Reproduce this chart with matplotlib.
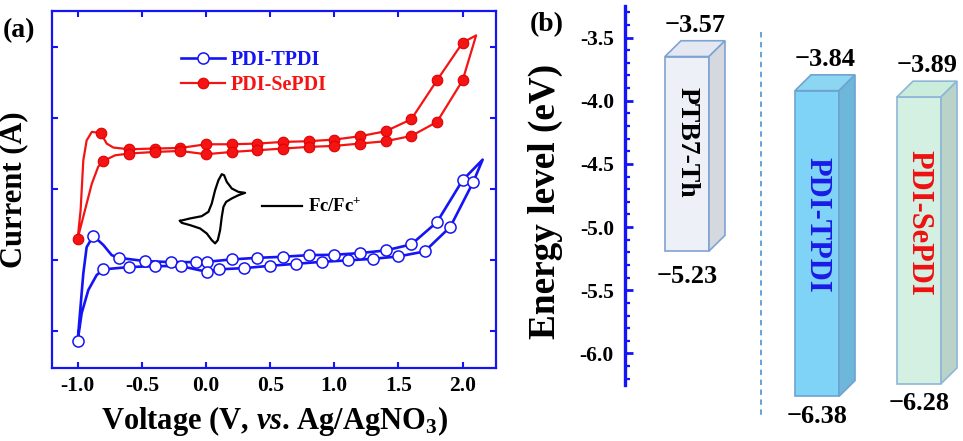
import matplotlib
matplotlib.use("Agg")
import matplotlib.pyplot as plt
from matplotlib.lines import Line2D
from matplotlib.patches import Polygon

plt.rcParams['font.family'] = ['Liberation Serif', 'DejaVu Serif']
plt.rcParams['font.weight'] = 'bold'
plt.rcParams['axes.labelweight'] = 'bold'
plt.rcParams['axes.unicode_minus'] = False
plt.rcParams['mathtext.fontset'] = 'custom'
plt.rcParams['mathtext.rm'] = 'Liberation Serif:bold'
plt.rcParams['mathtext.it'] = 'Liberation Serif:italic:bold'
plt.rcParams['mathtext.bf'] = 'Liberation Serif:bold'

# ---------------- data: panel (a) cyclic voltammetry ----------------
tpdi_line_v = [-1.0, -0.982, -0.956, -0.93, -0.878, -0.80, -0.735, -0.678, -0.475, -0.275, -0.077, 0.006,
               0.2, 0.4, 0.6, 0.8, 1.0, 1.2, 1.4, 1.6, 1.8, 2.0, 2.156,
               2.083, 1.904, 1.704, 1.5, 1.3, 1.103, 0.903, 0.7, 0.5, 0.3, 0.102, 0.006,
               -0.197, -0.397, -0.6, -0.8, -0.852, -0.917, -0.969, -1.0]
tpdi_line_i = [0.86, 1.25, 1.81, 2.18, 2.338, 2.21, 2.067, 2.029, 1.983, 1.969, 1.969, 1.973,
               2.007, 2.029, 2.044, 2.067, 2.072, 2.096, 2.133, 2.218, 2.531, 3.121, 3.41,
               3.097, 2.465, 2.119, 2.049, 2.015, 1.993, 1.973, 1.945, 1.917, 1.885, 1.867, 1.833,
               1.913, 1.913, 1.899, 1.867, 1.787, 1.576, 1.25, 0.86]
tpdi_mark_v = [-1.0, -0.878, -0.678, -0.475, -0.275, -0.077, 0.006, 0.2, 0.4, 0.6, 0.8, 1.0, 1.2, 1.4,
               1.6, 1.8, 2.0, 2.083, 1.904, 1.704, 1.5, 1.3, 1.103, 0.903, 0.7, 0.5, 0.3, 0.102,
               0.006, -0.197, -0.397, -0.6, -0.8]
tpdi_mark_i = [0.86, 2.338, 2.029, 1.983, 1.969, 1.969, 1.973, 2.007, 2.029, 2.044, 2.067, 2.072,
               2.096, 2.133, 2.218, 2.531, 3.121, 3.097, 2.465, 2.119, 2.049, 2.015, 1.993, 1.973,
               1.945, 1.917, 1.885, 1.867, 1.833, 1.913, 1.913, 1.899, 1.867]

sepdi_line_v = [-1.0, -0.977, -0.956, -0.93, -0.89, -0.82, -0.774, -0.722, -0.6, -0.4, -0.2, 0.0,
                0.2, 0.4, 0.6, 0.8, 1.0, 1.2, 1.4, 1.6, 1.8, 2.0, 2.105,
                2.0, 1.8, 1.6, 1.4, 1.2, 1.0, 0.8, 0.6, 0.4, 0.2, 0.0, -0.2, -0.4, -0.6,
                -0.71, -0.8, -0.84, -0.89, -0.943, -1.0]
sepdi_line_i = [2.30, 2.70, 3.40, 3.68, 3.80, 3.785, 3.636, 3.58, 3.556, 3.566, 3.574, 3.626,
                3.626, 3.636, 3.659, 3.669, 3.692, 3.739, 3.809, 3.978, 4.525, 5.055, 5.157,
                4.525, 3.94, 3.743, 3.669, 3.636, 3.603, 3.589, 3.566, 3.542, 3.518, 3.486,
                3.532, 3.518, 3.496, 3.47, 3.39, 3.31, 3.07, 2.70, 2.30]
sepdi_mark_v = [-1.0, -0.82, -0.6, -0.4, -0.2, 0.0, 0.2, 0.4, 0.6, 0.8, 1.0, 1.2, 1.4, 1.6, 1.8, 2.0,
                2.0, 1.8, 1.6, 1.4, 1.2, 1.0, 0.8, 0.6, 0.4, 0.2, 0.0, -0.2, -0.4, -0.6, -0.8]
sepdi_mark_i = [2.30, 3.785, 3.556, 3.566, 3.574, 3.626, 3.626, 3.636, 3.659, 3.669, 3.692, 3.739,
                3.809, 3.978, 4.525, 5.055, 4.525, 3.94, 3.743, 3.669, 3.636, 3.603, 3.589, 3.566,
                3.542, 3.518, 3.486, 3.532, 3.518, 3.496, 3.39]

# Fc/Fc+ reference voltammogram (inset sketch)
fc_v = [-0.202, -0.124, -0.033, 0.019, 0.045, 0.071, 0.097, 0.123, 0.141, 0.162, 0.201, 0.253, 0.305,
        0.253, 0.201, 0.157, 0.136, 0.123, 0.110, 0.092, 0.071, 0.045, 0.006, -0.046, -0.124, -0.189, -0.202]
fc_i = [2.549, 2.583, 2.615, 2.676, 2.793, 2.98, 3.121, 3.205, 3.191, 3.097, 3.004, 2.956, 2.943,
        2.910, 2.864, 2.816, 2.746, 2.605, 2.419, 2.278, 2.232, 2.278, 2.372, 2.442, 2.489, 2.521, 2.549]

x_ticks = [-1.0, -0.5, 0.0, 0.5, 1.0, 1.5, 2.0]
x_tick_labels = ['-1.0', '-0.5', '0.0', '0.5', '1.0', '1.5', '2.0']
y_ticks_a = [1, 2, 3, 4, 5]

# ---------------- data: panel (b) energy levels ----------------
materials = ['PTB7-Th', 'PDI-TPDI', 'PDI-SePDI']
lumo = [-3.57, -3.84, -3.89]
homo = [-5.23, -6.38, -6.28]
e_ticks = [-3.5, -4.0, -4.5, -5.0, -5.5, -6.0]
e_tick_labels = ['-3.5', '-4.0', '-4.5', '-5.0', '-5.5', '-6.0']

# ---------------- style ----------------
BLUE = '#1414F5'
RED = '#F51414'
box_front = ['#EEF0F8', '#7ED3F6', '#D3F0E3']
box_top = ['#E4E8F3', '#8DD6F2', '#C9ECDB']
box_side = ['#D6D8DF', '#6DB7DA', '#B9D3C8']
box_edge = ['#7FA3D2', '#6FA3D0', '#8FB6D8']
label_colors = ['black', '#1A1AE6', '#F01010']
label_sizes = [20, 22, 22]
box_x = [62, 192, 294]
box_w = 44
depth_x = 16
depth_y = 0.125
inset_top = 0.08
inset_bot = 0.04
bottom_label_offset = [-10, -6, -6]

fig = plt.figure(figsize=(9.63, 4.41), dpi=100)

# ================= panel (a) =================
axA = fig.add_axes([52/963, 73/441, 444/963, 357/441])
axA.plot(tpdi_line_v, tpdi_line_i, color=BLUE, lw=1.9, zorder=2)
axA.plot(tpdi_mark_v, tpdi_mark_i, ls='none', marker='o', ms=8, mfc='white', mec=BLUE, mew=1.1, zorder=3)
axA.plot(sepdi_line_v, sepdi_line_i, color=RED, lw=1.6, zorder=2)
axA.plot(sepdi_mark_v, sepdi_mark_i, ls='none', marker='o', ms=7.6, mfc=RED, mec='#E00000', mew=0.8, zorder=3)
axA.plot(fc_v, fc_i, color='black', lw=1.6, zorder=2)

axA.set_xlim(-1.2, 2.26)
axA.set_ylim(0.48, 5.5)
axA.set_xticks(x_ticks)
axA.set_xticklabels(x_tick_labels)
axA.set_yticks(y_ticks_a)
axA.tick_params(direction='in', length=4, width=1.5, color=BLUE, top=True, right=True,
                labelleft=False, labelsize=15.5, pad=6)
for sp in axA.spines.values():
    sp.set_color(BLUE)
    sp.set_linewidth(1.6)
axA.set_xlabel(r'Voltage (V, $\mathit{vs}$. Ag/AgNO$_{\mathregular{3}}$)', fontsize=22)
axA.xaxis.set_label_coords(0.5, -0.10)
axA.set_ylabel('Current (A)', fontsize=22)
axA.yaxis.set_label_coords(-0.054, 0.5)

handles = [Line2D([], [], color=BLUE, lw=1.9, marker='o', ms=8, mfc='white', mec=BLUE, mew=1.1),
           Line2D([], [], color=RED, lw=1.6, marker='o', ms=7.6, mfc=RED, mec='#E00000', mew=0.8)]
leg = axA.legend(handles, ['PDI-TPDI', 'PDI-SePDI'], loc='upper left', bbox_to_anchor=(0.29, 0.89),
                 frameon=False, fontsize=14.5, handlelength=2.2, handletextpad=0.3, labelspacing=0.25,
                 borderpad=0, borderaxespad=0)
for txt, c in zip(leg.get_texts(), [BLUE, RED]):
    txt.set_color(c)

axA.plot([0.473, 0.563], [0.454, 0.454], transform=axA.transAxes, color='black', lw=1.6)
axA.text(0.577, 0.454, r'Fc/Fc$^{\mathregular{+}}$', transform=axA.transAxes, fontsize=13.5,
         va='center', ha='left')
fig.text(3/963, 1 - 31/441, '(a)', fontsize=20, va='center', ha='left')

# ================= panel (b) =================
axB = fig.add_axes([625/963, 56/441, 338/963, 379/441])
axB.set_xlim(0, 338)
axB.set_ylim(-6.25, -3.25)
for side in ['top', 'right', 'bottom']:
    axB.spines[side].set_visible(False)
axB.spines['left'].set_color(BLUE)
axB.spines['left'].set_linewidth(2.4)
axB.set_xticks([])
axB.set_yticks(e_ticks)
axB.set_yticklabels(e_tick_labels)
axB.set_yticks([-3.3, -3.4, -3.6, -3.7, -3.8, -3.9, -4.1, -4.2, -4.3, -4.4, -4.6, -4.7, -4.8, -4.9,
                -5.1, -5.2, -5.3, -5.4, -5.6, -5.7, -5.8, -5.9, -6.1, -6.2], minor=True)
axB.tick_params(axis='y', which='major', direction='in', length=5.5, width=2, color=BLUE,
                labelsize=15.5, pad=8)
axB.tick_params(axis='y', which='minor', direction='in', length=3.5, width=1.6, color=BLUE)
axB.set_ylabel('Energy level (eV)', fontsize=26.8)
axB.yaxis.set_label_coords(-0.183, 0.484)
fig.text(530/963, 1 - 25/441, '(b)', fontsize=20, va='center', ha='left')

axB.plot([136, 136], [-3.456, -6.488], color='#5B9BD5', lw=1.3, ls=(0, (3, 2.5)), clip_on=False)

for k, name in enumerate(materials):
    x0 = box_x[k] - box_w / 2
    x1 = box_x[k] + box_w / 2
    top = lumo[k] - inset_top
    bot = homo[k] + inset_bot
    front = Polygon([(x0, bot), (x1, bot), (x1, top), (x0, top)], closed=True,
                    fc=box_front[k], ec=box_edge[k], lw=1.2, clip_on=False, zorder=3)
    topf = Polygon([(x0, top), (x1, top), (x1 + depth_x, top + depth_y), (x0 + depth_x, top + depth_y)],
                   closed=True, fc=box_top[k], ec=box_edge[k], lw=1.2, clip_on=False, zorder=3)
    side = Polygon([(x1, bot), (x1 + depth_x, bot + depth_y), (x1 + depth_x, top + depth_y), (x1, top)],
                   closed=True, fc=box_side[k], ec=box_edge[k], lw=1.2, clip_on=False, zorder=3)
    for p in (front, topf, side):
        axB.add_patch(p)
    axB.annotate('\u2212%.2f' % -lumo[k], xy=(box_x[k] + depth_x / 2, top + depth_y),
                 xytext=(0, 3), textcoords='offset points', ha='center', va='bottom',
                 fontsize=19, annotation_clip=False)
    axB.annotate('\u2212%.2f' % -homo[k], xy=(box_x[k], bot), xytext=(0, bottom_label_offset[k]),
                 textcoords='offset points', ha='center', va='top', fontsize=19,
                 annotation_clip=False)
    axB.text(box_x[k], top - 0.44 * (top - bot), name, rotation=-90, ha='center', va='center',
             fontsize=label_sizes[k], color=label_colors[k], zorder=4, clip_on=False)

fig.savefig('out.png', dpi=100)
